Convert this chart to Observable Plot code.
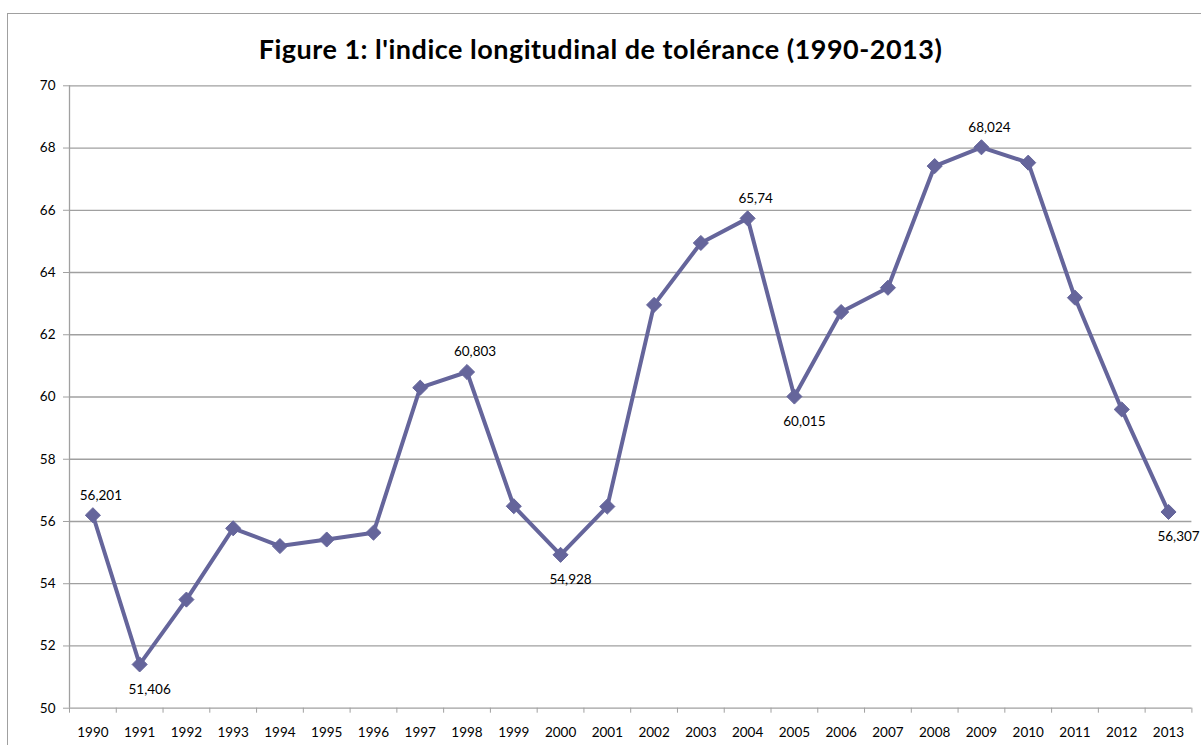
<!DOCTYPE html>
<html><head><meta charset="utf-8">
<script src="https://cdn.jsdelivr.net/npm/d3@7"></script>
<script src="https://cdn.jsdelivr.net/npm/@observablehq/plot@0.6"></script>
<style>
html,body{margin:0;padding:0;background:#fff;overflow:hidden;}
#wrap{position:relative;width:1201px;height:745px;}
#frame{position:absolute;left:7px;top:13px;width:1300px;height:800px;border:1.5px solid #a0a0a0;box-sizing:border-box;pointer-events:none;}
#chart{position:absolute;left:0;top:0;}
#title{position:absolute;left:0;width:1201px;top:33px;text-align:center;font-family:Lato;font-weight:bold;font-size:27px;line-height:1.2;letter-spacing:0.5px;color:#000;white-space:nowrap;}
</style></head><body>
<div id="wrap"><div id="chart"></div><div id="frame"></div><div id="title">Figure 1: l'indice longitudinal de tolérance (1990-2013)</div></div>
<script>
const years = [1990,1991,1992,1993,1994,1995,1996,1997,1998,1999,2000,2001,2002,2003,2004,2005,2006,2007,2008,2009,2010,2011,2012,2013];
const values = [56.201,51.406,53.49,55.78,55.21,55.42,55.64,60.30,60.803,56.49,54.928,56.48,62.96,64.95,65.74,60.015,62.73,63.51,67.42,68.024,67.53,63.19,59.60,56.307];
const labeledYears = [1990,1991,1998,2000,2004,2005,2009,2013];
const yTicks = [50,52,54,56,58,60,62,64,66,68,70];

const data = years.map((y,i)=>({year:y, value:values[i]}));
const boundaries = [...years.map(y=>y-0.5), years[years.length-1]+0.5];
const labels = labeledYears.map(y=>{
  const i = years.indexOf(y);
  const v = values[i];
  const nb = [values[i-1], values[i+1]].filter(d=>d!==undefined);
  const above = nb.every(n=>v>=n);
  return {year:y, value:v, text:String(v).replace(".", ","), above};
});

const color = "#65659b";
const gray = "#a0a0a0";

const chart = Plot.plot({
  width:1201, height:745,
  marginLeft:69, marginRight:9.6, marginTop:85.3, marginBottom:37.3,
  style:{fontFamily:"Lato", fontSize:"13.5px", color:"#000", background:"transparent"},
  x:{domain:[1989.5,2013.5], axis:null, label:null},
  y:{domain:[50,70], axis:null, label:null},
  marks:[
    Plot.gridY(yTicks, {stroke:gray, strokeOpacity:1, strokeWidth:1.3}),
    Plot.ruleX([1989.5], {stroke:gray, strokeWidth:1.3}),
    Plot.axisY(yTicks, {tickSize:6, tickPadding:8, stroke:gray, strokeOpacity:1, fill:"#000", label:null, tickFormat:d=>String(d)}),
    Plot.axisX(boundaries, {tickSize:5, stroke:gray, strokeOpacity:1, label:null, tickFormat:()=>""}),
    Plot.axisX(years, {tickSize:0, tickPadding:19, fill:"#000", label:null, tickFormat:d=>String(d)}),
    Plot.line(data, {x:"year", y:"value", stroke:color, strokeWidth:4, strokeLinejoin:"round"}),
    Plot.dot(data, {x:"year", y:"value", symbol:"diamond2", r:6.8, fill:color, stroke:color, strokeWidth:1}),
    Plot.text(labels.filter(d=>d.above), {x:"year", y:"value", text:"text", dy:-20, dx:8, fill:"#000"}),
    Plot.text(labels.filter(d=>!d.above), {x:"year", y:"value", text:"text", dy:25, dx:10, fill:"#000"})
  ]
});
document.getElementById("chart").appendChild(chart);
</script>
</body></html>
